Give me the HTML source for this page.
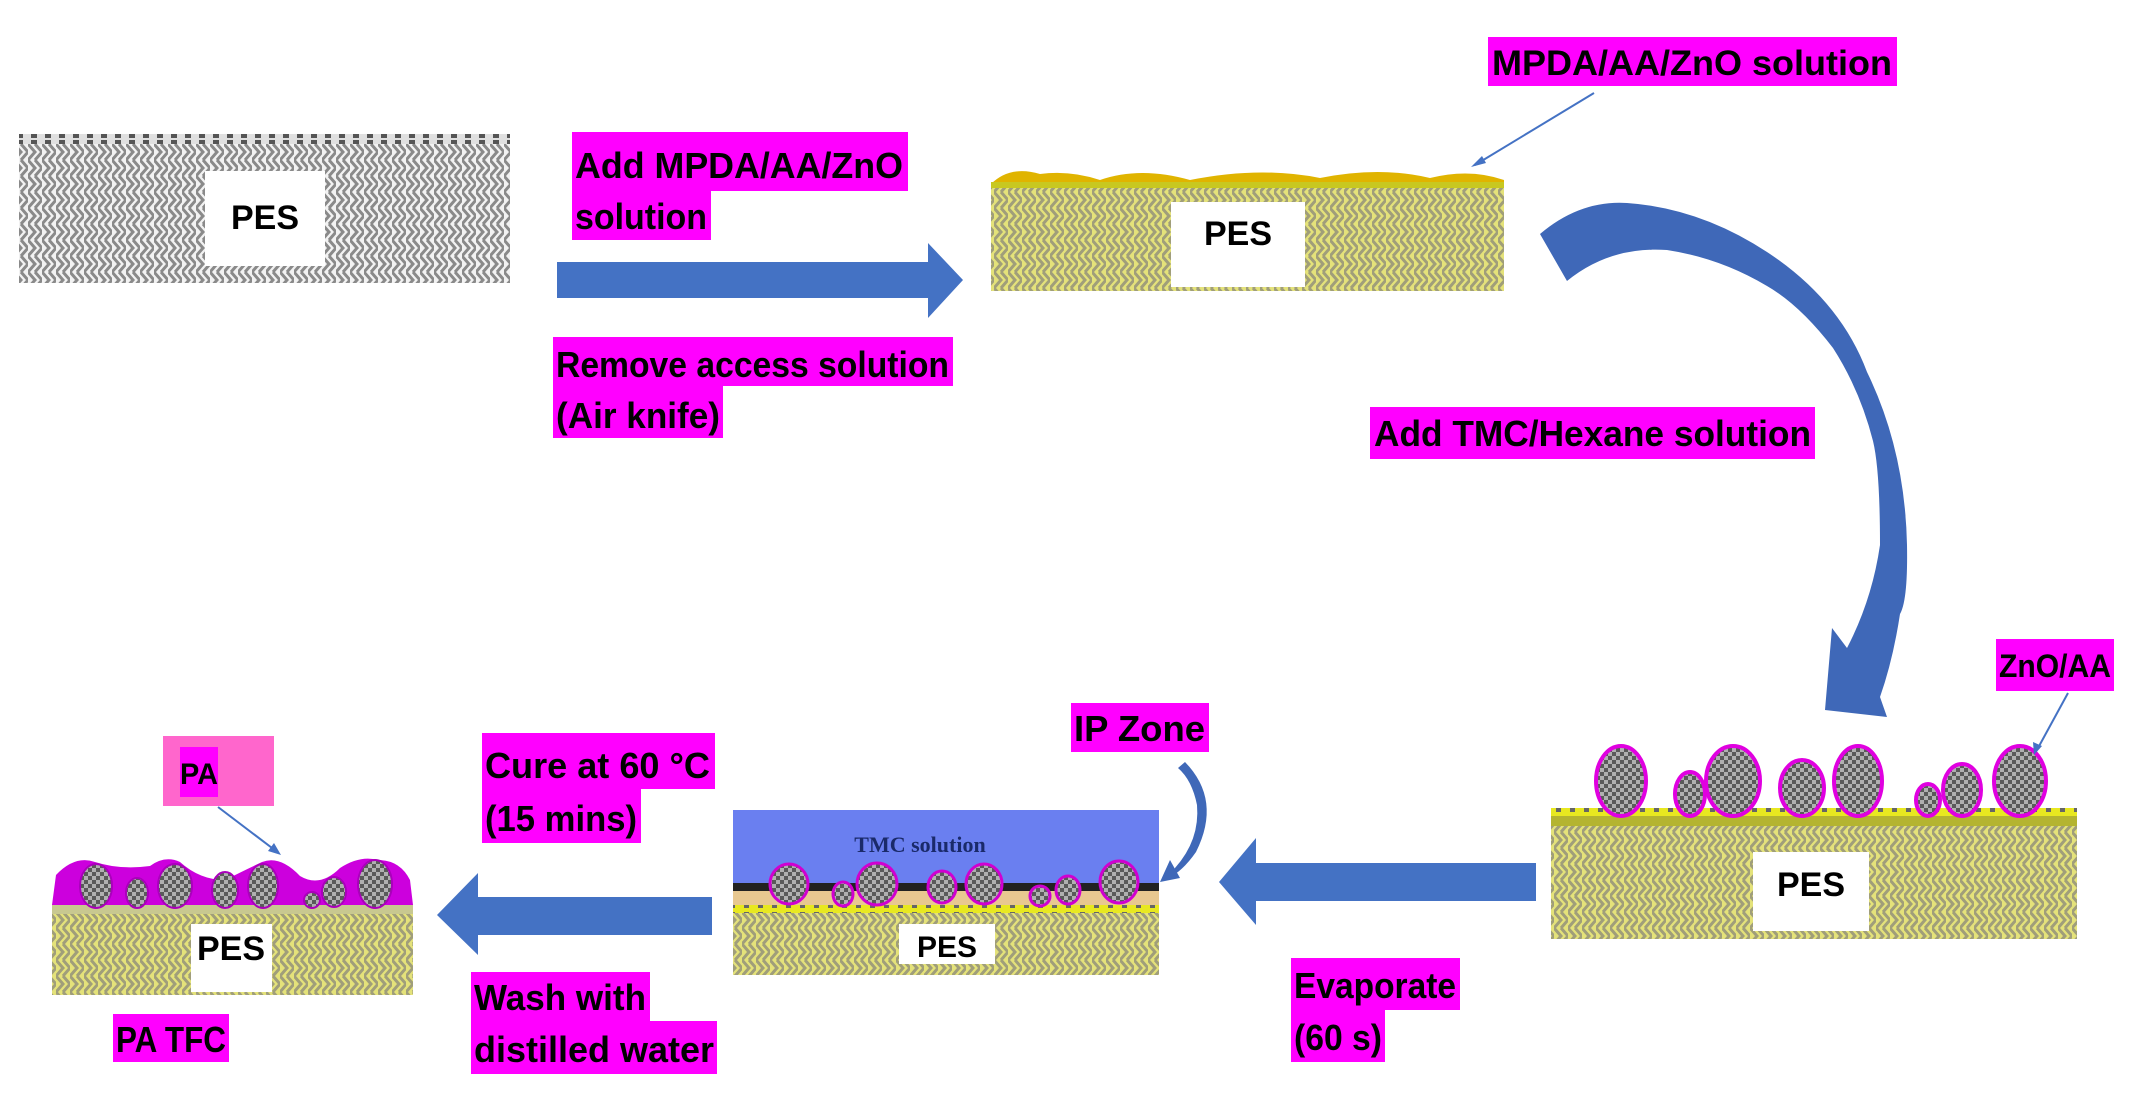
<!DOCTYPE html>
<html><head><meta charset="utf-8"><style>
html,body{margin:0;padding:0;background:#fff;}
svg{display:block;}
text{font-family:"Liberation Sans",sans-serif;font-weight:bold;}
</style></head><body>
<svg width="2140" height="1100" viewBox="0 0 2140 1100" xmlns="http://www.w3.org/2000/svg">
<defs>
<pattern id="gz" width="14" height="16" patternUnits="userSpaceOnUse">
<rect width="14" height="16" fill="#f2f2f2"/>
<polyline points="0,0 7,8 0,16" fill="none" stroke="#8a8a8a" stroke-width="3"/>
<polyline points="7,0 14,8 7,16" fill="none" stroke="#8a8a8a" stroke-width="3"/>
</pattern>
<pattern id="yz" width="14" height="16" patternUnits="userSpaceOnUse">
<rect width="14" height="16" fill="#e4e27a"/>
<polyline points="0,0 7,8 0,16" fill="none" stroke="#a09e7a" stroke-width="3"/>
<polyline points="7,0 14,8 7,16" fill="none" stroke="#a09e7a" stroke-width="3"/>
</pattern>
<pattern id="ck" width="8" height="8" patternUnits="userSpaceOnUse">
<rect width="8" height="8" fill="#5a5a5a"/>
<rect width="4" height="4" fill="#b0b0b0"/>
<rect x="4" y="4" width="4" height="4" fill="#b0b0b0"/>
</pattern>
<pattern id="dots" width="14" height="8" patternUnits="userSpaceOnUse">
<rect width="14" height="8" fill="#e8e820"/>
<rect x="2" y="0" width="5" height="4" fill="#666"/>
</pattern>
<pattern id="gdots" width="14" height="10" patternUnits="userSpaceOnUse">
<rect width="14" height="10" fill="#e0e0e0"/>
<rect x="3" y="0" width="6" height="8" fill="#555"/>
</pattern>
</defs>

<!-- Step 1: gray PES -->
<rect x="19" y="134" width="491" height="149" fill="url(#gz)"/>
<rect x="19" y="134" width="491" height="10" fill="url(#gdots)"/>
<rect x="205" y="171" width="120" height="95" fill="#fff"/>
<text x="265" y="229" font-size="34" text-anchor="middle">PES</text>

<!-- label 1 -->
<rect x="572" y="132" width="336" height="59" fill="#ff00ff"/>
<rect x="572" y="191" width="139" height="49" fill="#ff00ff"/>
<text x="575" y="178" font-size="36" textLength="328" lengthAdjust="spacingAndGlyphs">Add MPDA/AA/ZnO</text>
<text x="575" y="229" font-size="36" textLength="132" lengthAdjust="spacingAndGlyphs">solution</text>

<!-- arrow right -->
<polygon points="557,262 928,262 928,243 963,280 928,318 928,298 557,298" fill="#4472c4"/>

<rect x="553" y="337" width="400" height="49" fill="#ff00ff"/>
<rect x="553" y="386" width="170" height="52" fill="#ff00ff"/>
<text x="556" y="377" font-size="36" textLength="393" lengthAdjust="spacingAndGlyphs">Remove access solution</text>
<text x="556" y="428" font-size="36" textLength="164" lengthAdjust="spacingAndGlyphs">(Air knife)</text>

<!-- Step 2 yellow -->
<rect x="991" y="184" width="513" height="107" fill="url(#yz)"/>
<path d="M991,184 Q1010,165 1040,174 Q1070,170 1100,180 Q1140,166 1190,180 Q1260,166 1320,178 Q1380,166 1430,178 Q1470,168 1504,180 L1504,188 L991,188 Z" fill="#e0b400"/>
<rect x="991" y="182" width="513" height="6" fill="#c8c820"/>
<rect x="1171" y="202" width="134" height="85" fill="#fff"/>
<text x="1238" y="245" font-size="34" text-anchor="middle">PES</text>

<rect x="1488" y="37" width="409" height="49" fill="#ff00ff"/>
<text x="1492" y="75" font-size="35" textLength="400" lengthAdjust="spacingAndGlyphs">MPDA/AA/ZnO solution</text>
<line x1="1594" y1="93" x2="1475" y2="165" stroke="#4472c4" stroke-width="2"/>
<polygon points="1471,167 1482,156 1486,163" fill="#4472c4"/>

<!-- big curved arrow -->
<path d="M1540,234 Q1580,200 1627,203 Q1700,208 1767,252 Q1840,300 1867,372 Q1905,450 1907,545 Q1908,600 1900,614 Q1893,660 1880,697 L1887,717 L1825,710 L1832,628 L1847,648 Q1872,600 1880,545 Q1880,470 1873,441 Q1860,390 1833,348 Q1800,305 1767,286 Q1720,258 1667,250 Q1610,246 1567,281 Z" fill="#3f68b8"/>

<rect x="1370" y="407" width="445" height="52" fill="#ff00ff"/>
<text x="1374" y="446" font-size="36" textLength="437" lengthAdjust="spacingAndGlyphs">Add TMC/Hexane solution</text>

<!-- Step 3 bottom right -->
<rect x="1551" y="822" width="526" height="117" fill="url(#yz)"/>
<rect x="1551" y="810" width="526" height="16" fill="#b4b430"/>
<rect x="1551" y="808" width="526" height="8" fill="url(#dots)"/>
<g stroke="#e000e0" stroke-width="4" fill="url(#ck)">
<ellipse cx="1621" cy="781" rx="25" ry="35"/>
<ellipse cx="1690" cy="794" rx="15" ry="22"/>
<ellipse cx="1733" cy="781" rx="27" ry="35"/>
<ellipse cx="1802" cy="788" rx="22" ry="28"/>
<ellipse cx="1858" cy="781" rx="24" ry="35"/>
<ellipse cx="1928" cy="800" rx="12" ry="16"/>
<ellipse cx="1962" cy="790" rx="19" ry="26"/>
<ellipse cx="2020" cy="781" rx="26" ry="35"/>
</g>
<rect x="1753" y="852" width="116" height="79" fill="#fff"/>
<text x="1811" y="896" font-size="34" text-anchor="middle">PES</text>

<rect x="1996" y="639" width="118" height="52" fill="#ff00ff"/>
<text x="1999" y="677" font-size="32" textLength="112" lengthAdjust="spacingAndGlyphs">ZnO/AA</text>
<line x1="2068" y1="693" x2="2038" y2="748" stroke="#4472c4" stroke-width="2"/>
<polygon points="2034,755 2033,742 2042,746" fill="#4472c4"/>

<!-- evaporate arrow -->
<polygon points="1536,863 1256,863 1256,838 1219,882 1256,925 1256,901 1536,901" fill="#4472c4"/>
<rect x="1291" y="958" width="169" height="52" fill="#ff00ff"/>
<rect x="1291" y="1010" width="94" height="52" fill="#ff00ff"/>
<text x="1294" y="998" font-size="36" textLength="162" lengthAdjust="spacingAndGlyphs">Evaporate</text>
<text x="1294" y="1050" font-size="36" textLength="88" lengthAdjust="spacingAndGlyphs">(60 s)</text>

<!-- IP zone -->
<rect x="1071" y="703" width="138" height="49" fill="#ff00ff"/>
<text x="1074" y="741" font-size="36" textLength="131" lengthAdjust="spacingAndGlyphs">IP Zone</text>
<path d="M1185,762 Q1222,800 1196,852 Q1182,872 1168,878 L1175,868 Q1200,840 1197,805 Q1192,780 1178,768 Z" fill="#3f68b8"/>
<polygon points="1160,882 1170,860 1180,878" fill="#3f68b8"/>

<!-- Step 4 middle -->
<rect x="733" y="810" width="426" height="73" fill="#6a7ff0"/>
<text x="920" y="852" font-size="22" text-anchor="middle" style="font-family:'Liberation Serif',serif" fill="#1a2a6a">TMC solution</text>
<rect x="733" y="883" width="426" height="8" fill="#222"/>
<rect x="733" y="891" width="426" height="14" fill="#e8c890"/>
<rect x="733" y="905" width="426" height="8" fill="url(#dots)"/>
<rect x="733" y="913" width="426" height="62" fill="url(#yz)"/>
<g stroke="#d000d0" stroke-width="3" fill="url(#ck)">
<ellipse cx="789" cy="884" rx="19" ry="20"/>
<ellipse cx="843" cy="894" rx="10" ry="12"/>
<ellipse cx="877" cy="884" rx="20" ry="21"/>
<ellipse cx="942" cy="887" rx="14" ry="16"/>
<ellipse cx="984" cy="884" rx="18" ry="20"/>
<ellipse cx="1040" cy="896" rx="10" ry="10"/>
<ellipse cx="1068" cy="890" rx="12" ry="14"/>
<ellipse cx="1119" cy="882" rx="19" ry="21"/>
</g>
<rect x="899" y="924" width="96" height="40" fill="#fff"/>
<text x="947" y="957" font-size="30" text-anchor="middle">PES</text>

<!-- cure label -->
<rect x="482" y="733" width="233" height="56" fill="#ff00ff"/>
<rect x="482" y="789" width="159" height="54" fill="#ff00ff"/>
<text x="485" y="778" font-size="36" textLength="225" lengthAdjust="spacingAndGlyphs">Cure at 60 °C</text>
<text x="485" y="831" font-size="36" textLength="152" lengthAdjust="spacingAndGlyphs">(15 mins)</text>

<!-- wash arrow -->
<polygon points="712,897 478,897 478,873 437,915 478,955 478,935 712,935" fill="#4472c4"/>
<rect x="471" y="972" width="179" height="49" fill="#ff00ff"/>
<rect x="471" y="1021" width="246" height="53" fill="#ff00ff"/>
<text x="474" y="1010" font-size="36" textLength="172" lengthAdjust="spacingAndGlyphs">Wash with</text>
<text x="474" y="1062" font-size="36" textLength="240" lengthAdjust="spacingAndGlyphs">distilled water</text>

<!-- Final PA TFC -->
<rect x="52" y="910" width="361" height="85" fill="url(#yz)"/>
<rect x="52" y="904" width="361" height="10" fill="#c8c890"/>
<path d="M52,905 L56,875 Q75,855 95,862 Q120,870 150,866 Q165,855 180,862 Q200,880 225,880 Q245,870 262,862 Q280,855 300,876 Q320,888 340,868 Q360,855 378,860 Q400,860 410,880 L413,905 Z" fill="#cc00dd"/>
<g stroke="#aa00bb" stroke-width="2" fill="url(#ck)">
<ellipse cx="96" cy="886" rx="16" ry="22"/>
<ellipse cx="137" cy="893" rx="11" ry="15"/>
<ellipse cx="175" cy="886" rx="17" ry="22"/>
<ellipse cx="225" cy="890" rx="13" ry="18"/>
<ellipse cx="263" cy="886" rx="15" ry="22"/>
<ellipse cx="312" cy="900" rx="8" ry="8"/>
<ellipse cx="334" cy="892" rx="12" ry="15"/>
<ellipse cx="375" cy="884" rx="17" ry="24"/>
</g>
<rect x="191" y="924" width="81" height="68" fill="#fff"/>
<text x="231" y="960" font-size="34" text-anchor="middle">PES</text>

<rect x="163" y="736" width="111" height="70" fill="#ff66cc"/>
<rect x="180" y="747" width="38" height="50" fill="#ff00ff"/>
<text x="180" y="784" font-size="30" textLength="38" lengthAdjust="spacingAndGlyphs">PA</text>
<line x1="218" y1="807" x2="276" y2="851" stroke="#4472c4" stroke-width="2"/>
<polygon points="281,855 268,851 274,843" fill="#4472c4"/>

<rect x="113" y="1014" width="116" height="48" fill="#ff00ff"/>
<text x="116" y="1052" font-size="36" textLength="110" lengthAdjust="spacingAndGlyphs">PA TFC</text>
</svg>
</body></html>
